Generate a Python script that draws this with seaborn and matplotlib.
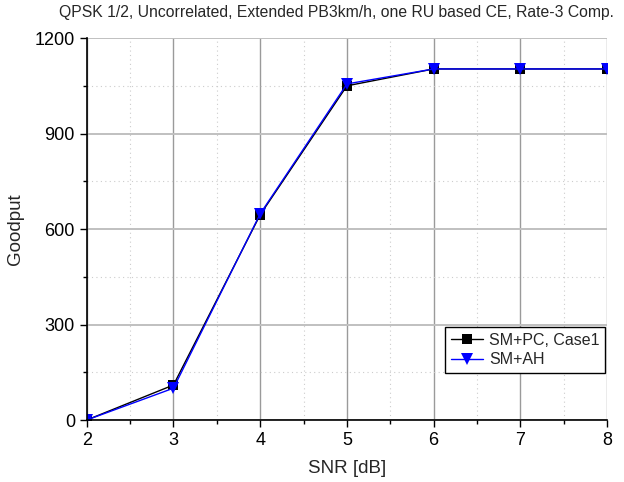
import matplotlib
matplotlib.use("Agg")
import matplotlib.pyplot as plt
import seaborn as sns
import pandas as pd
from matplotlib.ticker import MultipleLocator

snr = [2, 3, 4, 5, 6, 7, 8]
sm_pc = [0, 110, 645, 1050, 1103, 1103, 1103]
sm_ah = [0, 100, 648, 1056, 1103, 1103, 1103]
series_names = ["SM+PC, Case1", "SM+AH"]
title = "QPSK 1/2, Uncorrelated, Extended PB3km/h, one RU based CE, Rate-3 Comp."

df = pd.DataFrame({
    "SNR": snr * 2,
    "Goodput": sm_pc + sm_ah,
    "series": [series_names[0]] * len(snr) + [series_names[1]] * len(snr),
})

sns.set_style("white")
plt.rcParams["font.family"] = ["Liberation Sans", "DejaVu Sans"]

fig = plt.figure(figsize=(6.24, 4.82), dpi=100)
ax = fig.add_axes([0.139, 0.1286, 0.834, 0.7924])

sns.lineplot(data=df, x="SNR", y="Goodput", hue="series", style="series",
             palette={series_names[0]: "black", series_names[1]: "#0000ff"},
             markers={series_names[0]: "s", series_names[1]: "v"},
             dashes=False, linewidth=1.0, markersize=7, markeredgewidth=0,
             ax=ax, legend=True)
for ln in ax.lines:
    if ln.get_marker() == "v":
        ln.set_markersize(9)

ax.set_xlim(2, 8)
ax.set_ylim(0, 1200)
ax.xaxis.set_major_locator(MultipleLocator(1))
ax.xaxis.set_minor_locator(MultipleLocator(0.5))
ax.yaxis.set_major_locator(MultipleLocator(300))
ax.yaxis.set_minor_locator(MultipleLocator(150))
ax.xaxis.grid(True, which="major", color="#9a9a9a", linewidth=1.0, linestyle="-")
ax.yaxis.grid(True, which="major", color="#c0c0c0", linewidth=1.4, linestyle="-")
ax.grid(True, which="minor", color="#cccccc", linewidth=0.8, linestyle=(0, (1, 3)))
ax.set_axisbelow(True)

for s in ["top", "right"]:
    ax.spines[s].set_visible(False)
for s in ["left", "bottom"]:
    ax.spines[s].set_color("black")
    ax.spines[s].set_linewidth(1.2)

ax.tick_params(which="major", direction="out", length=5, width=1.0, colors="black",
               labelsize=13, bottom=True, left=True)
ax.tick_params(which="minor", direction="out", length=3, width=1.0, colors="black",
               bottom=True, left=True)

ax.set_xlabel("SNR [dB]", fontsize=13.5, labelpad=8)
ax.set_ylabel("Goodput", fontsize=13.5, labelpad=8)
fig.text(0.539, 0.975, title, ha="center", va="center", fontsize=11.3)

leg = ax.legend(loc="lower right", bbox_to_anchor=(0.996, 0.123), borderaxespad=0,
                fontsize=11.5, frameon=True, fancybox=False, edgecolor="black",
                framealpha=1, handlelength=2.0, borderpad=0.35, labelspacing=0.3,
                handletextpad=0.4)
leg.get_frame().set_linewidth(1.0)

fig.savefig("out.png", dpi=100)
